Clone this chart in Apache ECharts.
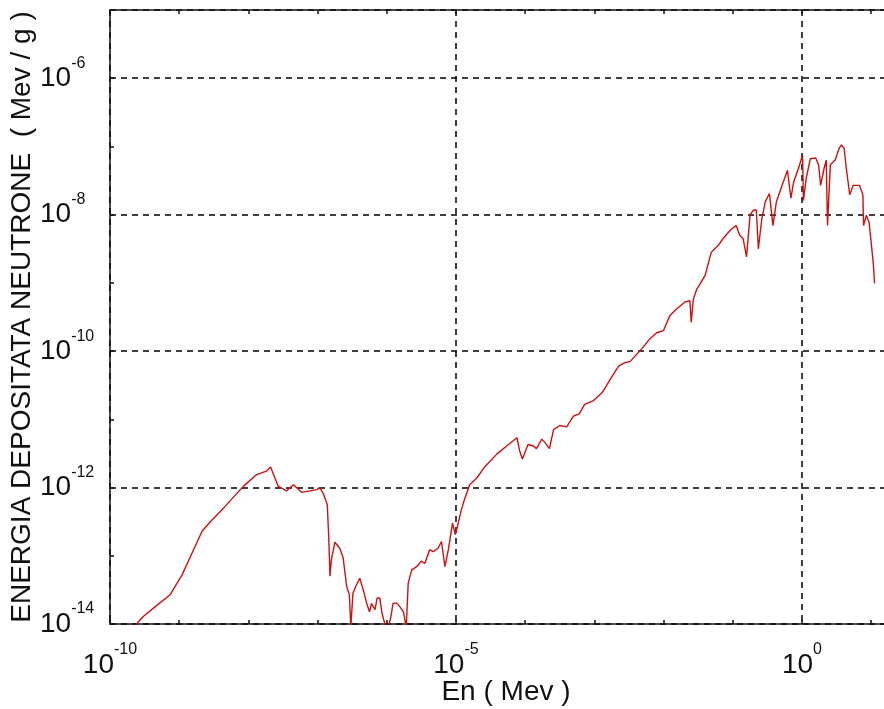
<!DOCTYPE html>
<html>
<head>
<meta charset="utf-8">
<script src="https://cdn.jsdelivr.net/npm/echarts@6/dist/echarts.min.js"></script>
<style>
html,body{margin:0;padding:0;background:#fff;}
#chart{width:884px;height:709px;}
</style>
</head>
<body>
<div id="chart"></div>
<script>
// Neutron energy (MeV)
const energy = [
  2.0e-10, 2.51e-10, 3.02e-10, 4.47e-10, 7.41e-10, 1.10e-9, 2.14e-9, 2.82e-9, 4.57e-9, 8.51e-9,
  1.32e-8, 1.82e-8, 2.09e-8, 2.69e-8, 3.55e-8, 4.47e-8, 5.89e-8, 9.77e-8, 1.07e-7, 1.20e-7,
  1.38e-7, 1.45e-7, 1.51e-7, 1.58e-7, 1.78e-7, 2.09e-7, 2.34e-7, 2.63e-7, 2.88e-7, 3.02e-7,
  3.24e-7, 3.55e-7, 4.07e-7, 4.57e-7, 5.13e-7, 5.62e-7, 6.03e-7, 6.76e-7, 7.24e-7, 7.94e-7,
  8.51e-7, 9.33e-7, 1.05e-6, 1.15e-6, 1.23e-6, 1.38e-6, 1.55e-6, 1.74e-6, 1.91e-6, 2.04e-6,
  2.29e-6, 2.69e-6, 3.16e-6, 3.55e-6, 4.17e-6, 4.68e-6, 5.50e-6, 6.17e-6, 6.92e-6, 7.76e-6,
  8.91e-6, 9.77e-6, 1.05e-5, 1.20e-5, 1.35e-5, 1.58e-5, 2.0e-5, 2.63e-5, 3.89e-5, 5.75e-5,
  7.59e-5, 8.32e-5, 9.12e-5, 1.10e-4, 1.32e-4, 1.45e-4, 1.74e-4, 2.0e-4, 2.24e-4, 2.57e-4,
  3.16e-4, 3.98e-4, 5.01e-4, 6.03e-4, 7.24e-4, 9.55e-4, 1.29e-3, 1.70e-3, 2.24e-3, 2.75e-3,
  3.31e-3, 3.89e-3, 4.79e-3, 6.31e-3, 7.94e-3, 1.0e-2, 1.23e-2, 1.55e-2, 2.04e-2, 2.40e-2,
  2.51e-2, 2.69e-2, 3.02e-2, 3.39e-2, 3.98e-2, 4.90e-2, 6.17e-2, 7.24e-2, 9.55e-2, 0.112,
  0.126, 0.141, 0.158, 0.178, 0.200, 0.219, 0.234, 0.263, 0.295, 0.339,
  0.380, 0.427, 0.537, 0.617, 0.692, 0.759, 0.891, 1.02, 1.05, 1.15,
  1.32, 1.58, 1.74, 1.86, 2.09, 2.24, 2.34, 2.57, 3.02, 3.47,
  3.72, 4.07, 4.37, 4.90, 5.50, 6.76, 7.59, 7.76, 8.51, 9.33,
  10.7, 11.2
];
// Deposited energy (MeV/g)
const deposit = [
  7.59e-15, 1.05e-14, 1.29e-14, 1.78e-14, 2.69e-14, 5.25e-14, 2.29e-13, 3.16e-13, 5.25e-13, 1.05e-12,
  1.55e-12, 1.74e-12, 2.0e-12, 1.05e-12, 8.91e-13, 1.10e-12, 8.51e-13, 9.33e-13, 1.0e-12, 8.32e-13,
  5.62e-13, 1.82e-13, 5.01e-14, 8.71e-14, 1.58e-13, 1.29e-13, 9.33e-14, 3.55e-14, 2.69e-14, 8.91e-15,
  2.82e-14, 3.55e-14, 4.68e-14, 3.16e-14, 2.0e-14, 1.51e-14, 2.0e-14, 1.62e-14, 2.40e-14, 2.40e-14,
  1.45e-14, 1.02e-14, 8.91e-15, 1.29e-14, 2.0e-14, 2.04e-14, 1.78e-14, 1.51e-14, 8.91e-15, 3.98e-14,
  6.17e-14, 6.92e-14, 8.32e-14, 7.76e-14, 1.23e-13, 1.15e-13, 1.29e-13, 1.62e-13, 6.92e-14, 1.23e-13,
  3.02e-13, 2.04e-13, 2.69e-13, 4.79e-13, 7.08e-13, 1.10e-12, 1.38e-12, 2.04e-12, 3.09e-12, 4.27e-12,
  5.37e-12, 3.47e-12, 2.63e-12, 4.27e-12, 4.07e-12, 3.72e-12, 5.13e-12, 4.37e-12, 3.72e-12, 7.08e-12,
  8.13e-12, 7.76e-12, 1.12e-11, 1.20e-11, 1.66e-11, 1.86e-11, 2.45e-11, 3.89e-11, 6.03e-11, 6.76e-11,
  7.08e-11, 8.51e-11, 1.07e-10, 1.51e-10, 1.86e-10, 2.0e-10, 3.31e-10, 4.17e-10, 5.25e-10, 5.50e-10,
  2.63e-10, 5.75e-10, 8.13e-10, 9.77e-10, 1.29e-9, 2.82e-9, 3.55e-9, 4.47e-9, 6.17e-9, 6.92e-9,
  5.01e-9, 4.47e-9, 2.40e-9, 1.0e-8, 1.17e-8, 1.17e-8, 3.16e-9, 8.71e-9, 1.55e-8, 2.04e-8,
  6.92e-9, 1.55e-8, 3.02e-8, 4.47e-8, 1.74e-8, 3.02e-8, 4.79e-8, 7.41e-8, 1.62e-8, 3.39e-8,
  6.61e-8, 6.76e-8, 5.37e-8, 2.69e-8, 4.79e-8, 6.31e-8, 6.92e-9, 5.37e-8, 6.31e-8, 9.55e-8,
  1.05e-7, 9.33e-8, 4.79e-8, 1.95e-8, 2.69e-8, 2.69e-8, 1.95e-8, 6.92e-9, 9.77e-9, 7.76e-9,
  2.0e-9, 9.77e-10
];
const xMin = 1e-10, xMax = 20;
const yMin = 1e-14, yMax = 1e-5;
const xLabelEvery = 5;   // labelled decades
const yLabelEvery = 2;

const FONT = 'Liberation Sans, Arial, sans-serif';
const rich = {
  b: { fontSize: 28, lineHeight: 46, fontFamily: FONT, color: '#111' },
  s: { fontSize: 16, lineHeight: 16, verticalAlign: 'top', fontFamily: FONT, color: '#111' }
};
function expLabel(every) {
  return function (v) {
    const e = Math.round(Math.log10(v));
    if (Math.abs(Math.log10(v) - e) > 1e-6 || e % every !== 0) return '';
    return '{b|10}{s|' + e + '}';
  };
}
const lineStyle = { color: '#111', width: 1.5 };
const dash = { show: true, lineStyle: { color: '#000', width: 1.5, type: [6, 5] } };

const chart = echarts.init(document.getElementById('chart'), null, { renderer: 'canvas' });
chart.setOption({
  animation: false,
  backgroundColor: '#fff',
  grid: { left: 110, top: 10, right: -8, bottom: 85, outerBoundsMode: 'none', containLabel: false },
  xAxis: [
    {
      type: 'log', logBase: 10, min: xMin, max: xMax, interval: 1, position: 'bottom',
      axisLine: { show: true, lineStyle: lineStyle },
      axisTick: { show: true, inside: true, length: 4, lineStyle: lineStyle },
      axisLabel: { formatter: expLabel(xLabelEvery), rich: rich, margin: 18, showMaxLabel: false },
      splitLine: { show: false },
      name: 'En ( Mev )', nameLocation: 'middle', nameGap: 54, nameMoveOverlap: false,
      nameTextStyle: { fontSize: 28, fontFamily: FONT, color: '#111', padding: [0, 0, 0, 10] }
    },
    {
      type: 'log', logBase: 10, min: xMin, max: xMax, interval: 1, position: 'top',
      axisLine: { show: true, lineStyle: lineStyle },
      axisTick: { show: true, inside: true, length: 4, lineStyle: lineStyle },
      axisLabel: { show: false }, splitLine: { show: false }
    },
    {
      type: 'log', logBase: 10, min: xMin, max: xMax, interval: xLabelEvery, position: 'bottom',
      axisLine: { show: false }, axisTick: { show: false }, axisLabel: { show: false },
      splitLine: dash
    }
  ],
  yAxis: [
    {
      type: 'log', logBase: 10, min: yMin, max: yMax, interval: 1, position: 'left',
      axisLine: { show: true, lineStyle: lineStyle },
      axisTick: { show: true, inside: true, length: 4, lineStyle: lineStyle },
      axisLabel: { formatter: expLabel(yLabelEvery), rich: rich, margin: 70, align: 'left', showMaxLabel: false },
      splitLine: { show: false },
      name: 'ENERGIA DEPOSITATA NEUTRONE  ( Mev / g )', nameLocation: 'middle', nameGap: 74, nameMoveOverlap: false,
      nameTextStyle: { fontSize: 28, fontFamily: FONT, color: '#111' }
    },
    {
      type: 'log', logBase: 10, min: yMin, max: yMax, interval: yLabelEvery, position: 'right',
      axisLine: { show: false }, axisTick: { show: false }, axisLabel: { show: false },
      splitLine: dash
    }
  ],
  series: [{
    type: 'line',
    xAxisIndex: 0, yAxisIndex: 0,
    data: energy.map((e, i) => [e, deposit[i]]),
    showSymbol: false,
    clip: true,
    lineStyle: { color: '#cc1111', width: 1.4 },
    itemStyle: { color: '#cc1111' },
    z: 5
  }]
});
</script>
</body>
</html>
